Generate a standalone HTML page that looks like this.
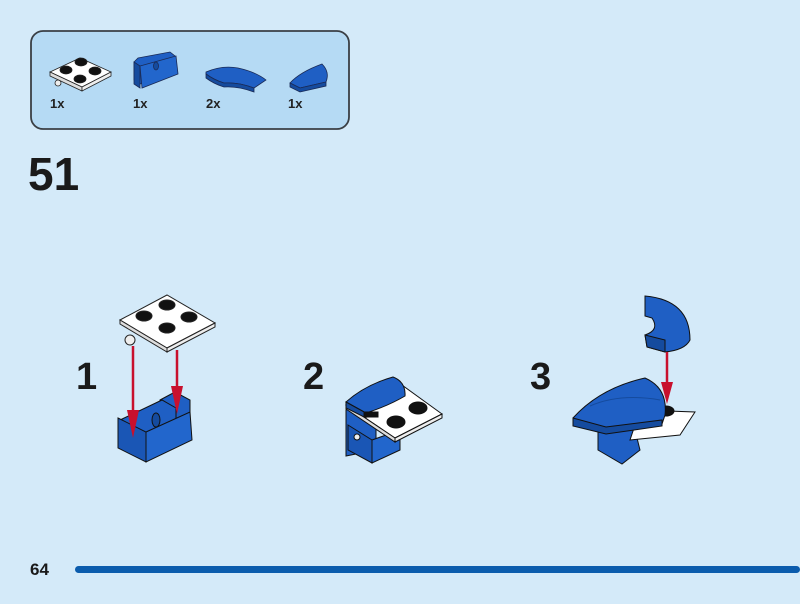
<!DOCTYPE html>
<html><head><style>
html,body{margin:0;padding:0;background:#d4eaf9;}
svg{display:block;font-family:"Liberation Sans",sans-serif;font-weight:bold;}
</style></head><body>
<svg width="800" height="604" viewBox="0 0 800 604" xmlns="http://www.w3.org/2000/svg">
<rect width="800" height="604" fill="#d4eaf9"/>
<rect x="31" y="31" width="318" height="98" rx="12" fill="#b5daf4" stroke="#3a3f45" stroke-width="1.8"/>
<!-- part 1: plate -->
<g stroke="#222" stroke-width="0.8">
<polygon points="50,72 80,58 111,72 82,87" fill="#fff"/>
<polygon points="50,72 82,87 82,91 50,76" fill="#ddd"/>
<polygon points="82,87 111,72 111,76 82,91" fill="#eee"/>
<ellipse cx="81" cy="62" rx="6" ry="4" fill="#111"/><ellipse cx="66" cy="70" rx="6" ry="4" fill="#111"/>
<ellipse cx="95" cy="71" rx="6" ry="4" fill="#111"/><ellipse cx="80" cy="79" rx="6" ry="4" fill="#111"/>
<circle cx="58" cy="83" r="3" fill="#eee"/>
</g>
<!-- part 2: bracket -->
<g stroke="#1a2a55" stroke-width="0.8" fill="#1f5fc4">
<polygon points="134,62 138,58 170,52 175,56 176,72 140,84 134,80"/>
<polygon points="134,62 140,66 140,88 134,84" fill="#154b9e"/>
<polygon points="140,66 176,56 178,74 142,88" fill="#2266cc"/>
<ellipse cx="156" cy="66" rx="2.5" ry="4" fill="#154b9e"/>
</g>
<!-- part 3: curved tile -->
<g stroke="#1a2a55" stroke-width="0.8" fill="#1f5fc4">
<path d="M206,72 Q222,65 238,68 Q256,72 266,80 L254,88 Q238,82 224,83 Q214,80 206,74 Z"/>
<path d="M206,74 Q214,80 224,83 Q238,82 254,88 L254,92 Q238,86 224,87 Q214,84 206,78 Z" fill="#154b9e"/>
</g>
<!-- part 4 -->
<g stroke="#1a2a55" stroke-width="0.8" fill="#1f5fc4">
<path d="M290,83 Q300,72 322,64 Q330,72 326,82 L300,88 Z"/>
<path d="M290,83 L300,88 L326,82 L326,86 L300,92 L290,87 Z" fill="#154b9e"/>
</g>
<text x="50" y="108" font-size="13" fill="#222">1x</text>
<text x="133" y="108" font-size="13" fill="#222">1x</text>
<text x="206" y="108" font-size="13" fill="#222">2x</text>
<text x="288" y="108" font-size="13" fill="#222">1x</text>

<text x="28" y="190" font-size="46" fill="#1a1a1a">51</text>
<text x="76" y="389" font-size="38" fill="#1a1a1a">1</text>
<text x="303" y="389" font-size="38" fill="#1a1a1a">2</text>
<text x="530" y="389" font-size="38" fill="#1a1a1a">3</text>

<!-- step1 plate -->
<g stroke="#222" stroke-width="1">
<polygon points="120,320 167,295 215,323 167,348" fill="#fff"/>
<polygon points="120,320 167,348 167,352 120,324" fill="#ddd"/>
<polygon points="167,348 215,323 215,327 167,352" fill="#eee"/>
<circle cx="130" cy="340" r="5" fill="#eee"/>
<g fill="#111">
<ellipse cx="167" cy="305" rx="8" ry="5"/><ellipse cx="144" cy="316" rx="8" ry="5"/>
<ellipse cx="189" cy="317" rx="8" ry="5"/><ellipse cx="167" cy="328" rx="8" ry="5"/>
</g>
</g>
<!-- step1 bracket -->
<g stroke="#111" stroke-width="1" fill="#1f5fc4">
<polygon points="160,400 175,392 190,400 190,430 160,435"/>
<polygon points="120,420 162,400 176,408 176,438 130,452"/>
<polygon points="118,418 146,432 146,462 118,448" fill="#1a56b5"/>
<polygon points="146,432 190,412 192,440 146,462" fill="#2266cc"/>
<ellipse cx="156" cy="420" rx="4" ry="7" fill="#154b9e"/>
</g>
<g stroke="#c8102e" stroke-width="2.5" fill="#c8102e">
<line x1="133" y1="346" x2="133" y2="422"/>
<polygon points="127,410 139,410 133,438" stroke="none"/>
<line x1="177" y1="350" x2="177" y2="398"/>
<polygon points="171,386 183,386 177,414" stroke="none"/>
</g>

<!-- step2 -->
<g stroke="#111" stroke-width="1">
<polygon points="346,410 376,396 376,450 346,456" fill="#1f5fc4"/>
<polygon points="348,425 372,440 372,463 348,450" fill="#1a56b5"/>
<polygon points="372,440 400,430 400,450 372,463" fill="#2266cc"/>
<polygon points="346,405 395,380 442,414 395,438" fill="#fff"/>
<polygon points="346,405 395,438 395,442 346,409" fill="#ddd"/>
<polygon points="395,438 442,414 442,418 395,442" fill="#eee"/>
<ellipse cx="418" cy="408" rx="9" ry="6" fill="#111"/>
<ellipse cx="396" cy="422" rx="9" ry="6" fill="#111"/>
<path d="M346,402 Q365,385 393,377 Q406,382 405,396 Q388,406 366,413 Z" fill="#1f5fc4"/>
<path d="M346,402 L366,413 L366,418 L346,408 Z" fill="#154b9e"/>
<rect x="364" y="412" width="14" height="5" fill="#111"/>
<circle cx="357" cy="437" r="3" fill="#eee"/>
</g>

<!-- step3 -->
<g stroke="#111" stroke-width="1">
<polygon points="598,425 632,418 640,450 622,464 598,450" fill="#1f5fc4"/>
<polygon points="640,410 695,412 680,435 630,440" fill="#fff"/>
<ellipse cx="666" cy="411" rx="8" ry="5" fill="#111"/>
<path d="M573,418 Q600,388 645,378 Q668,388 665,415 L662,424 L606,432 L573,425 Z" fill="#1f5fc4"/>
<path d="M590,406 Q620,393 660,400" fill="none" stroke="#154b9e"/>
<path d="M573,418 L606,427 L662,420 L662,426 L606,434 L573,426 Z" fill="#154b9e"/>
<path d="M645,296 Q690,300 690,340 Q685,350 665,352 L647,347 L645,335 Q660,330 652,318 L645,316 Z" fill="#1f5fc4"/>
<path d="M645,335 L665,340 L665,352 L647,347 Z" fill="#154b9e"/>
</g>
<g stroke="#c8102e" stroke-width="2.5" fill="#c8102e">
<line x1="667" y1="352" x2="667" y2="392"/>
<polygon points="661,382 673,382 667,404" stroke="none"/>
</g>

<text x="30" y="575" font-size="17" fill="#1a1a1a">64</text>
<rect x="75" y="566" width="725" height="7" rx="3.5" fill="#0b5cad"/>
</svg>
</body></html>
